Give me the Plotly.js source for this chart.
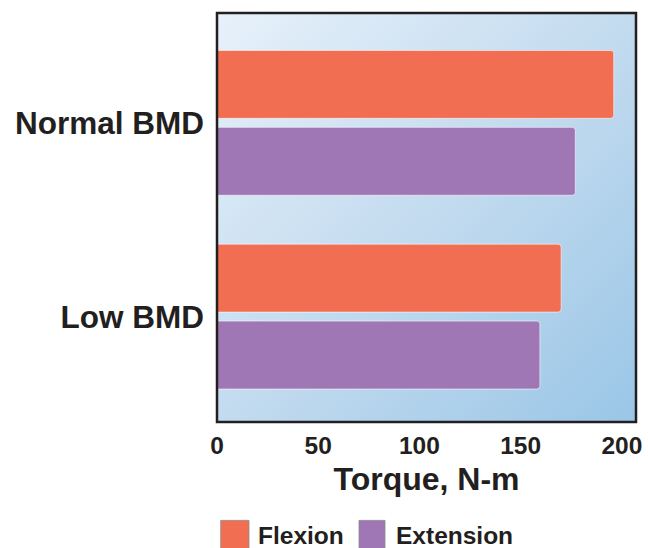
<!DOCTYPE html>
<html>
<head>
<meta charset="utf-8">
<script src="https://cdn.plot.ly/plotly-3.0.1.min.js"></script>
<style>html,body{margin:0;padding:0;background:#fff;}#chart{width:648px;height:548px;}</style>
</head>
<body>
<div id="chart"></div>
<script>
const categories = ["Normal BMD", "Low BMD"];
const seriesNames = ["Flexion", "Extension"];
const flexion = [196, 170];
const extension = [177, 159.5];
const xTicks = [0, 50, 100, 150, 200];
const colors = ["#f26e52", "#a077b5"];

const W = 648, H = 548, L = 217, R = 12, T = 13, B = 125.5;
const pw = W - L - R, ph = H - T - B;
const px2x = p => (p - L) / pw;
const px2y = p => (H - B - p) / ph;

const grad = '<svg xmlns="http://www.w3.org/2000/svg" width="100" height="100" preserveAspectRatio="none">' +
  '<defs><linearGradient id="g" x1="0" y1="0" x2="1" y2="1">' +
  '<stop offset="0" stop-color="#e7f1fa"/><stop offset="0.5" stop-color="#c3dbef"/><stop offset="1" stop-color="#9ac6e7"/>' +
  '</linearGradient></defs><rect width="100" height="100" fill="url(#g)"/></svg>';

const font = {family: "Liberation Sans, Arial, sans-serif", color: "#231f20", weight: "bold"};

const traces = [flexion, extension].map((vals, i) => ({
  type: "bar", orientation: "h", name: seriesNames[i],
  x: vals, y: categories,
  marker: {color: colors[i], cornerradius: 3, line: {color: "rgba(255,255,255,0.55)", width: 1}},
  hoverinfo: "x+name", showlegend: false
}));

const shapes = [{type: "rect", xref: "paper", yref: "paper", x0: 0, x1: 1, y0: 0, y1: 1,
  line: {color: "#231f20", width: 2.5}, fillcolor: "rgba(0,0,0,0)", layer: "above"}];
const annotations = [];
const legX = [[220.7, 249, 256], [359, 385, 394]];
seriesNames.forEach((n, i) => {
  shapes.push({type: "rect", xref: "paper", yref: "paper",
    x0: px2x(legX[i][0]), x1: px2x(legX[i][1]), y0: px2y(521), y1: px2y(552),
    fillcolor: colors[i], line: {color: "#8a8a8a", width: 0.8}});
  annotations.push({xref: "paper", yref: "paper", x: px2x(legX[i][2]), y: px2y(536),
    xanchor: "left", yanchor: "middle", showarrow: false, text: n,
    font: Object.assign({}, font, {size: 24.5})});
});

const layout = {
  width: W, height: H,
  margin: {l: L, r: R, t: T, b: B, pad: 0},
  paper_bgcolor: "#ffffff", plot_bgcolor: "rgba(0,0,0,0)",
  barmode: "group", bargap: 0.206, bargroupgap: 0.117,
  showlegend: false,
  xaxis: {range: [0, 207], tickvals: xTicks, ticktext: xTicks.map(String),
    showgrid: false, zeroline: false, showline: false, ticks: "",
    tickfont: Object.assign({}, font, {size: 24.5}), ticklabelstandoff: 6,
    title: {text: "Torque, N-m", font: Object.assign({}, font, {size: 32}), standoff: 10},
    automargin: false, fixedrange: true},
  yaxis: {type: "category", categoryarray: categories, categoryorder: "array",
    range: [1.544, -0.567], showgrid: false, zeroline: false, showline: false, ticks: "",
    tickfont: Object.assign({}, font, {size: 31.5}), ticklabelstandoff: 12,
    automargin: false, fixedrange: true},
  images: [{source: "data:image/svg+xml;charset=utf-8," + encodeURIComponent(grad),
    xref: "paper", yref: "paper", x: 0, y: 1, sizex: 1, sizey: 1,
    sizing: "stretch", xanchor: "left", yanchor: "top", layer: "below"}],
  shapes: shapes, annotations: annotations
};

Plotly.newPlot("chart", traces, layout, {displayModeBar: false, staticPlot: true});
</script>
</body>
</html>
